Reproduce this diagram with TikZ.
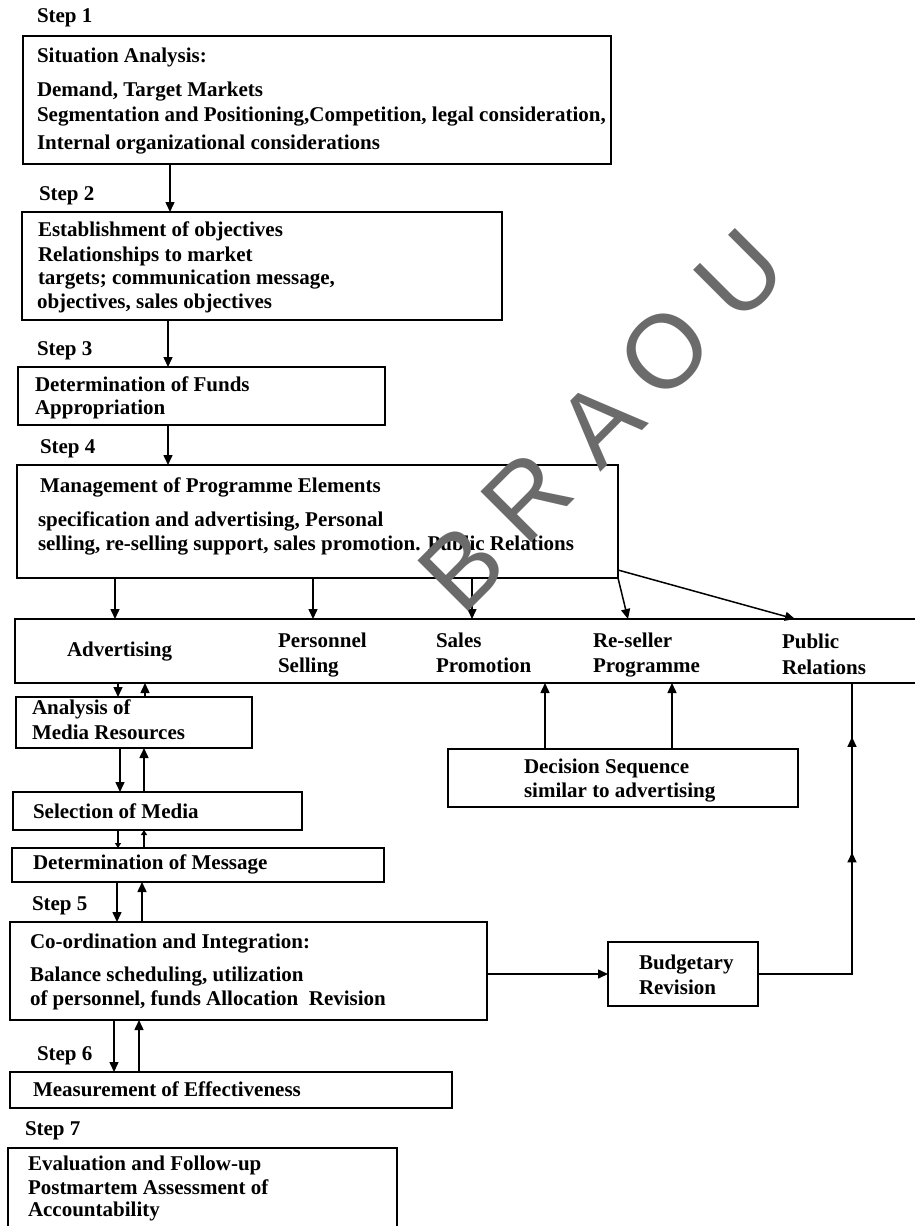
\documentclass[tikz,border=0pt]{standalone}
\usepackage{fontspec}
\setmainfont{Liberation Serif}
\newfontfamily\wmfont{Liberation Sans}
\usetikzlibrary{arrows.meta,decorations.markings,calc}
\begin{document}
\begin{tikzpicture}[x=1pt,y=-1pt,
  every node/.style={inner sep=0pt,outer sep=0pt},
  box/.style={draw,line width=1.8pt,anchor=north west,inner sep=0pt},
  txt/.style={anchor=base west,font=\fontsize{21}{23}\selectfont\bfseries},
  arr/.style={line width=1.5pt,-{Triangle[length=10pt,width=9pt]}},
  ln/.style={line width=1.5pt},
  wm/.style={font=\wmfont\fontsize{104}{104}\selectfont,text=black!58,rotate=45,anchor=center}]
\useasboundingbox (0,0) rectangle (915,1226);

% ---- boxes ----
\node[box,minimum width=588pt,minimum height=128pt] (s1) at (23,36) {};
\node[box,minimum width=480pt,minimum height=108pt] (s2) at (22,212) {};
\node[box,minimum width=367pt,minimum height=58pt] (s3) at (18,367) {};
\node[box,minimum width=601pt,minimum height=113pt] (s4) at (17,465) {};
\node[box,minimum width=930pt,minimum height=64pt] (band) at (15,619) {};
\node[box,minimum width=236pt,minimum height=51pt] (ana) at (16,697) {};
\node[box,minimum width=289pt,minimum height=38pt] (sel) at (13,792) {};
\node[box,minimum width=372pt,minimum height=34pt] (det) at (12,848) {};
\node[box,minimum width=477pt,minimum height=98pt] (s5) at (10,922) {};
\node[box,minimum width=150pt,minimum height=64pt] (bud) at (608,942) {};
\node[box,minimum width=350pt,minimum height=58pt] (dec) at (448,749) {};
\node[box,minimum width=442pt,minimum height=36pt] (meas) at (10,1072) {};
\node[box,minimum width=389pt,minimum height=120pt] (s7) at (8,1148) {};

% ---- step labels ----
\node[txt] (l1) at (37,23) {Step 1};
\node[txt] (l2) at (39,200) {Step 2};
\node[txt] (l3) at (37,355) {Step 3};
\node[txt] (l4) at (40,453) {Step 4};
\node[txt] (l5) at (32,910) {Step 5};
\node[txt] (l6) at (37,1060) {Step 6};
\node[txt] (l7) at (25,1135) {Step 7};

% ---- texts ----
\node[txt] (t1a) at (37,62) {Situation Analysis:};
\node[txt] (t1b) at (37,96) {Demand, Target Markets};
\node[txt] (t1c) at (37,121) {Segmentation and Positioning,Competition, legal consideration,};
\node[txt] (t1d) at (37,149) {Internal organizational considerations};

\node[txt] (t2a) at (38,236) {Establishment of objectives};
\node[txt] (t2b) at (38,261) {Relationships to market};
\node[txt] (t2c) at (38,284) {targets; communication message,};
\node[txt] (t2d) at (37,308) {objectives, sales objectives};

\node[txt] (t3a) at (35,391) {Determination of Funds};
\node[txt] (t3b) at (35,414) {Appropriation};

\node[txt] (t4a) at (40,492) {Management of Programme Elements};
\node[txt] (t4b) at (38,526) {specification and advertising, Personal};
\node[txt] (t4c) at (38,550) {selling, re-selling support, sales promotion. Public Relations};

\node[txt] (b1) at (67,656) {Advertising};
\node[txt] (b2a) at (278,647) {Personnel};
\node[txt] (b2b) at (278,672) {Selling};
\node[txt] (b3a) at (436,647) {Sales};
\node[txt] (b3b) at (436,672) {Promotion};
\node[txt] (b4a) at (593,647) {Re-seller};
\node[txt] (b4b) at (593,672) {Programme};
\node[txt] (b5a) at (782,648) {Public};
\node[txt] (b5b) at (782,674) {Relations};

\node[txt] (ta1) at (32,714) {Analysis of};
\node[txt] (ta2) at (32,739) {Media Resources};
\node[txt] (tsel) at (33,818) {Selection of Media};
\node[txt] (tdet) at (33,869) {Determination of Message};

\node[txt] (t5a) at (30,948) {Co-ordination and Integration:};
\node[txt] (t5b) at (30,981) {Balance scheduling, utilization};
\node[txt] (t5c) at (30,1005) {of personnel, funds Allocation\ \ Revision};

\node[txt] (tb1) at (639,969) {Budgetary};
\node[txt] (tb2) at (639,994) {Revision};
\node[txt] (td1) at (524,773) {Decision Sequence};
\node[txt] (td2) at (524,797) {similar to advertising};

\node[txt] (tm) at (33,1096) {Measurement of Effectiveness};
\node[txt] (t7a) at (28,1170) {Evaluation and Follow-up};
\node[txt] (t7b) at (28,1194) {Postmartem Assessment of};
\node[txt] (t7c) at (28,1216) {Accountability};

% ---- connectors ----
\draw[arr] (170,0 |- s1.south) -- (170,0 |- s2.north);
\draw[arr] (168,0 |- s2.south) -- (168,0 |- s3.north);
\draw[arr] (168,0 |- s3.south) -- (168,0 |- s4.north);
\draw[arr] (115,0 |- s4.south) -- (115,0 |- band.north);
\draw[arr] (313,0 |- s4.south) -- (313,0 |- band.north);
\draw[arr] (472,0 |- s4.south) -- (472,0 |- band.north);
\draw[arr] (s4.south east) -- (628,0 |- band.north);
\draw[arr] ($(s4.south east)+(0,-8)$) -- (795,0 |- band.north);

\draw[arr] (118,0 |- band.south) -- (118,0 |- ana.north);
\draw[arr] (145,0 |- ana.north) -- (145,0 |- band.south);
\draw[arr] (120,0 |- ana.south) -- (120,0 |- sel.north);
\draw[arr] (144,0 |- sel.north) -- (144,0 |- ana.south);
\draw[ln,-{Triangle[length=5pt,width=6pt]}] (118,0 |- sel.south) -- (118,0 |- det.north);
\draw[ln,-{Triangle[length=5pt,width=6pt]}] (144,0 |- det.north) -- (144,0 |- sel.south);
\draw[arr] (117,0 |- det.south) -- (117,0 |- s5.north);
\draw[arr] (142,0 |- s5.north) -- (142,0 |- det.south);
\draw[arr] (114,0 |- s5.south) -- (114,0 |- meas.north);
\draw[arr] (139,0 |- meas.north) -- (139,0 |- s5.south);

\draw[arr] (545,0 |- dec.north) -- (545,0 |- band.south);
\draw[arr] (672,0 |- dec.north) -- (672,0 |- band.south);

\draw[arr] (s5.east |- bud.west) -- (bud.west);
\draw[ln,postaction={decorate},decoration={markings,
   mark=at position 0.56 with {\arrow{Triangle[length=10pt,width=9pt]}},
   mark=at position 0.86 with {\arrow{Triangle[length=10pt,width=9pt]}}}]
   (bud.east) -| (852,0 |- band.south);

% ---- watermark ----
\node[wm] (w1) at (462,568) {B};
\node[wm] (w2) at (527,497) {R};
\node[wm] (w3) at (600,423) {A};
\node[wm] (w4) at (665,352) {O};
\node[wm] (w5) at (740,275) {U};
\end{tikzpicture}
\end{document}
